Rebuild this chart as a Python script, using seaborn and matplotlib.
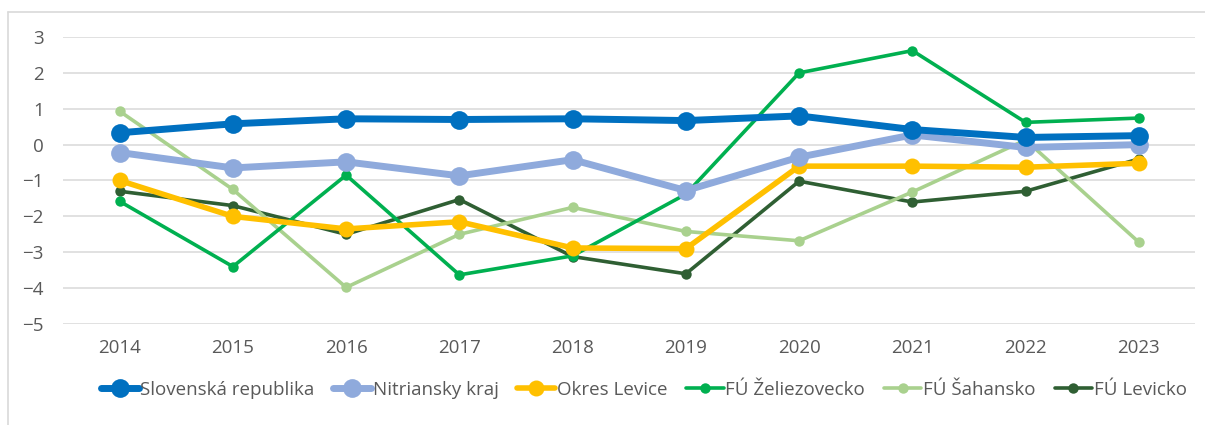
import pandas as pd
import matplotlib
matplotlib.use('Agg')
import matplotlib.pyplot as plt
import seaborn as sns

# data
years = [2014, 2015, 2016, 2017, 2018, 2019, 2020, 2021, 2022, 2023]
slovenska = [0.33, 0.58, 0.72, 0.70, 0.72, 0.67, 0.80, 0.42, 0.20, 0.25]
nitriansky = [-0.22, -0.65, -0.48, -0.87, -0.42, -1.28, -0.35, 0.27, -0.08, 0.00]
okres_levice = [-1.00, -2.00, -2.35, -2.15, -2.88, -2.90, -0.60, -0.60, -0.63, -0.52]
zeliezovecko = [-1.58, -3.40, -0.85, -3.63, -3.10, -1.38, 2.00, 2.62, 0.62, 0.74]
sahansko = [0.93, -1.25, -3.98, -2.50, -1.75, -2.42, -2.68, -1.32, 0.13, -2.72]
levicko = [-1.30, -1.70, -2.50, -1.53, -3.12, -3.60, -1.02, -1.60, -1.30, -0.40]

series = ['Slovenská republika', 'Nitriansky kraj', 'Okres Levice',
          'FÚ Želiezovecko', 'FÚ Šahansko', 'FÚ Levicko']
values = [slovenska, nitriansky, okres_levice, zeliezovecko, sahansko, levicko]
colors = ['#0070C0', '#8FAADC', '#FFC000', '#00B050', '#A9D18E', '#2F5F33']
widths = [5, 5, 4, 2.6, 2.6, 2.6]
msizes = [13.5, 13.5, 11.5, 7.5, 7.5, 7.5]

rows = []
for name, vals in zip(series, values):
    for yr, v in zip(years, vals):
        rows.append({'rok': yr, 'hodnota': v, 'seria': name})
df = pd.DataFrame(rows)

sns.set_style('white')
plt.rcParams['font.family'] = ['Open Sans', 'DejaVu Sans']

fig = plt.figure(figsize=(12.05, 4.25), dpi=100)
ax = fig.add_axes([0.0523, 0.2376, 0.9398, 0.6754])

# draw in reverse so the first series sits on top
for name, c, w, m in reversed(list(zip(series, colors, widths, msizes))):
    sns.lineplot(data=df[df['seria'] == name], x='rok', y='hodnota', ax=ax,
                 color=c, linewidth=w, marker='o', markersize=m,
                 markeredgewidth=0, label=name)

ax.set_xlim(2013.5, 2023.5)
ax.set_ylim(-5, 3)
ax.set_xticks(years)
ax.set_xticklabels([str(y) for y in years])
ax.set_yticks(range(-5, 4))
ax.yaxis.grid(True, color='#D9D9D9', linewidth=1.1)
ax.set_axisbelow(True)
for s in ax.spines.values():
    s.set_visible(False)
ax.tick_params(axis='both', length=0, labelsize=13.5, labelcolor='#595959')
ax.tick_params(axis='x', pad=11)
ax.tick_params(axis='y', pad=14)
ax.set_xlabel('')
ax.set_ylabel('')

handles, labels = ax.get_legend_handles_labels()
order = [labels.index(s) for s in series]
ax.legend([handles[i] for i in order], series, loc='center',
          bbox_to_anchor=(0.513, -0.23), ncol=6, frameon=False,
          fontsize=13.5, handlelength=2.0, handletextpad=0.1,
          columnspacing=1.0, labelcolor='#595959')

# light chart border (left and top visible)
fig.add_artist(plt.Line2D([0.0066, 0.0066], [0, 0.972], color='#D9D9D9',
                          linewidth=1.2, transform=fig.transFigure))
fig.add_artist(plt.Line2D([0.0066, 1.0], [0.972, 0.972], color='#D9D9D9',
                          linewidth=1.2, transform=fig.transFigure))

fig.savefig('out.png', dpi=100)
